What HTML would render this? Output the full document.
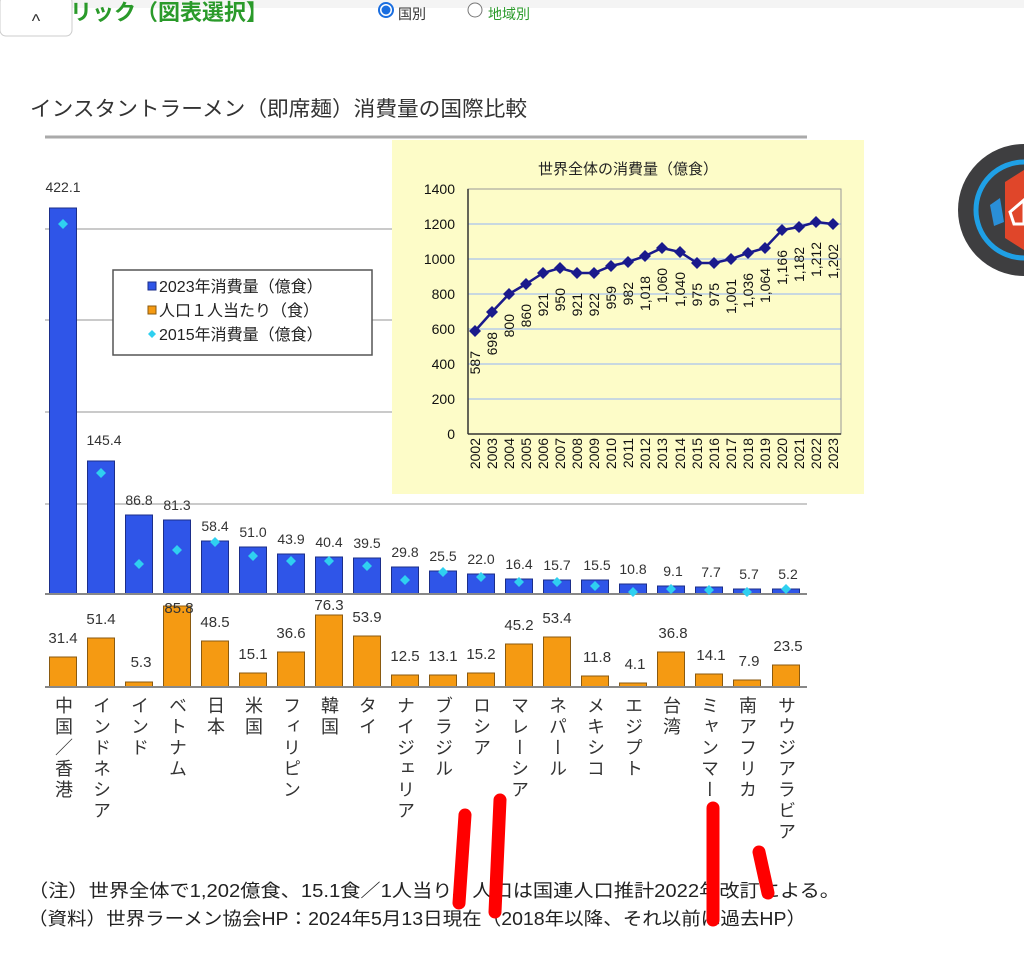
<!DOCTYPE html>
<html><head><meta charset="utf-8">
<style>
html,body{margin:0;padding:0;background:#fff;}
body{width:1024px;height:975px;overflow:hidden;position:relative;font-family:"Liberation Sans","Noto Sans CJK JP",sans-serif;}
svg text{font-family:"Liberation Sans","Noto Sans CJK JP",sans-serif;}
</style></head><body>
<svg width="1024" height="975" viewBox="0 0 1024 975" xmlns="http://www.w3.org/2000/svg">
<rect x="0" y="0" width="1024" height="8" fill="#f4f4f4"/>
<rect x="0" y="-4" width="72" height="40" rx="6" fill="#fff" stroke="#ccc"/>
<text x="36" y="27" font-size="18" text-anchor="middle" fill="#333">^</text>
<text x="70" y="20" font-size="22" fill="#2a9a2a" font-weight="bold">リック（図表選択】</text>
<circle cx="386" cy="10" r="7" fill="#fff" stroke="#1a6ee0" stroke-width="2"/><circle cx="386" cy="10" r="4.5" fill="#1a6ee0"/>
<text x="398" y="19" font-size="14" fill="#333">国別</text>
<circle cx="475" cy="10" r="7" fill="#fff" stroke="#777" stroke-width="1"/>
<text x="488" y="19" font-size="14" fill="#2a9a2a">地域別</text>
<circle cx="1024" cy="210" r="66" fill="#3e3e40"/>
<circle cx="1024" cy="210" r="48" fill="none" stroke="#1fa0e6" stroke-width="5"/>
<polygon points="990,205 1000,198 1004,222 994,226" fill="#2a8fd8"/>
<polygon points="1005,182 1024,170 1024,250 1005,238" fill="#e0462a"/>
<path d="M1010,212 L1024,200 L1024,224 L1014,224 Z" fill="none" stroke="#fff" stroke-width="3"/>
<text x="30" y="116" font-size="21" fill="#333" textLength="497" lengthAdjust="spacingAndGlyphs">インスタントラーメン（即席麺）消費量の国際比較</text>
<line x1="45" y1="137" x2="807" y2="137" stroke="#aaa" stroke-width="3"/>
<g stroke="#aaa" stroke-width="1.2">
<line x1="45" y1="229" x2="807" y2="229"/>
<line x1="45" y1="320" x2="807" y2="320"/>
<line x1="45" y1="412" x2="807" y2="412"/>
<line x1="45" y1="504" x2="807" y2="504"/>
</g>
<g fill="#2f55e8" stroke="#1b2e8a" stroke-width="1">
<rect x="49.5" y="208" width="27" height="386"/>
<rect x="87.5" y="461" width="27" height="133"/>
<rect x="125.5" y="515" width="27" height="79"/>
<rect x="163.5" y="520" width="27" height="74"/>
<rect x="201.5" y="541" width="27" height="53"/>
<rect x="239.5" y="547" width="27" height="47"/>
<rect x="277.5" y="554" width="27" height="40"/>
<rect x="315.5" y="557" width="27" height="37"/>
<rect x="353.5" y="558" width="27" height="36"/>
<rect x="391.5" y="567" width="27" height="27"/>
<rect x="429.5" y="571" width="27" height="23"/>
<rect x="467.5" y="574" width="27" height="20"/>
<rect x="505.5" y="579" width="27" height="15"/>
<rect x="543.5" y="580" width="27" height="14"/>
<rect x="581.5" y="580" width="27" height="14"/>
<rect x="619.5" y="584" width="27" height="10"/>
<rect x="657.5" y="586" width="27" height="8"/>
<rect x="695.5" y="587" width="27" height="7"/>
<rect x="733.5" y="589" width="27" height="5"/>
<rect x="772.5" y="589" width="27" height="5"/>
</g>
<line x1="45" y1="594" x2="807" y2="594" stroke="#888" stroke-width="2"/>
<g fill="#2fd0f0">
<path d="M63,219 l5,5 l-5,5 l-5,-5z"/>
<path d="M101,468 l5,5 l-5,5 l-5,-5z"/>
<path d="M139,559 l5,5 l-5,5 l-5,-5z"/>
<path d="M177,545 l5,5 l-5,5 l-5,-5z"/>
<path d="M215,537 l5,5 l-5,5 l-5,-5z"/>
<path d="M253,551 l5,5 l-5,5 l-5,-5z"/>
<path d="M291,556 l5,5 l-5,5 l-5,-5z"/>
<path d="M329,556 l5,5 l-5,5 l-5,-5z"/>
<path d="M367,561 l5,5 l-5,5 l-5,-5z"/>
<path d="M405,575 l5,5 l-5,5 l-5,-5z"/>
<path d="M443,567 l5,5 l-5,5 l-5,-5z"/>
<path d="M481,572 l5,5 l-5,5 l-5,-5z"/>
<path d="M519,577 l5,5 l-5,5 l-5,-5z"/>
<path d="M557,577 l5,5 l-5,5 l-5,-5z"/>
<path d="M595,581 l5,5 l-5,5 l-5,-5z"/>
<path d="M633,587 l5,5 l-5,5 l-5,-5z"/>
<path d="M671,584 l5,5 l-5,5 l-5,-5z"/>
<path d="M709,585 l5,5 l-5,5 l-5,-5z"/>
<path d="M747,587 l5,5 l-5,5 l-5,-5z"/>
<path d="M786,584 l5,5 l-5,5 l-5,-5z"/>
</g>
<g font-size="14" fill="#333" text-anchor="middle">
<text x="63" y="192">422.1</text>
<text x="104" y="445">145.4</text>
<text x="139" y="505">86.8</text>
<text x="177" y="510">81.3</text>
<text x="215" y="531">58.4</text>
<text x="253" y="537">51.0</text>
<text x="291" y="544">43.9</text>
<text x="329" y="547">40.4</text>
<text x="367" y="548">39.5</text>
<text x="405" y="557">29.8</text>
<text x="443" y="561">25.5</text>
<text x="481" y="564">22.0</text>
<text x="519" y="569">16.4</text>
<text x="557" y="570">15.7</text>
<text x="597" y="570">15.5</text>
<text x="633" y="574">10.8</text>
<text x="673" y="576">9.1</text>
<text x="711" y="577">7.7</text>
<text x="749" y="579">5.7</text>
<text x="788" y="579">5.2</text>
</g>
<g fill="#f59a12" stroke="#8a5a10" stroke-width="1">
<rect x="49.5" y="657" width="27" height="30"/>
<rect x="87.5" y="638" width="27" height="49"/>
<rect x="125.5" y="682" width="27" height="5"/>
<rect x="163.5" y="606" width="27" height="81"/>
<rect x="201.5" y="641" width="27" height="46"/>
<rect x="239.5" y="673" width="27" height="14"/>
<rect x="277.5" y="652" width="27" height="35"/>
<rect x="315.5" y="615" width="27" height="72"/>
<rect x="353.5" y="636" width="27" height="51"/>
<rect x="391.5" y="675" width="27" height="12"/>
<rect x="429.5" y="675" width="27" height="12"/>
<rect x="467.5" y="673" width="27" height="14"/>
<rect x="505.5" y="644" width="27" height="43"/>
<rect x="543.5" y="637" width="27" height="50"/>
<rect x="581.5" y="676" width="27" height="11"/>
<rect x="619.5" y="683" width="27" height="4"/>
<rect x="657.5" y="652" width="27" height="35"/>
<rect x="695.5" y="674" width="27" height="13"/>
<rect x="733.5" y="680" width="27" height="7"/>
<rect x="772.5" y="665" width="27" height="22"/>
</g>
<line x1="45" y1="687" x2="807" y2="687" stroke="#888" stroke-width="2"/>
<g font-size="15" fill="#333" text-anchor="middle">
<text x="63" y="643">31.4</text>
<text x="101" y="624">51.4</text>
<text x="141" y="667">5.3</text>
<text x="179" y="613">85.8</text>
<text x="215" y="627">48.5</text>
<text x="253" y="659">15.1</text>
<text x="291" y="638">36.6</text>
<text x="329" y="610">76.3</text>
<text x="367" y="622">53.9</text>
<text x="405" y="661">12.5</text>
<text x="443" y="661">13.1</text>
<text x="481" y="659">15.2</text>
<text x="519" y="630">45.2</text>
<text x="557" y="623">53.4</text>
<text x="597" y="662">11.8</text>
<text x="635" y="669">4.1</text>
<text x="673" y="638">36.8</text>
<text x="711" y="660">14.1</text>
<text x="749" y="666">7.9</text>
<text x="788" y="651">23.5</text>
</g>
<g font-size="18" fill="#333" style="writing-mode:vertical-rl;text-orientation:upright" letter-spacing="3">
<text x="63" y="696">中国／香港</text>
<text x="101" y="696">インドネシア</text>
<text x="139" y="696">インド</text>
<text x="177" y="696">ベトナム</text>
<text x="215" y="696">日本</text>
<text x="253" y="696">米国</text>
<text x="291" y="696">フィリピン</text>
<text x="329" y="696">韓国</text>
<text x="367" y="696">タイ</text>
<text x="405" y="696">ナイジェリア</text>
<text x="443" y="696">ブラジル</text>
<text x="481" y="696">ロシア</text>
<text x="519" y="696">マレーシア</text>
<text x="557" y="696">ネパール</text>
<text x="595" y="696">メキシコ</text>
<text x="633" y="696">エジプト</text>
<text x="671" y="696">台湾</text>
<text x="709" y="696">ミャンマー</text>
<text x="747" y="696">南アフリカ</text>
<text x="786" y="696">サウジアラビア</text>
</g>
<rect x="113" y="270" width="259" height="85" fill="#fff" stroke="#555" stroke-width="1.5"/>
<rect x="148" y="282" width="8" height="8" fill="#2f55e8" stroke="#1b2e8a"/>
<rect x="148" y="306" width="8" height="8" fill="#f59a12" stroke="#8a5a10"/>
<path d="M152,330 l4,4 l-4,4 l-4,-4z" fill="#2fd0f0"/>
<g font-size="16" fill="#222">
<text x="159" y="292">2023年消費量（億食）</text>
<text x="159" y="316">人口１人当たり（食）</text>
<text x="159" y="340">2015年消費量（億食）</text>
</g>
<rect x="392" y="140" width="472" height="354" fill="#fdfcc8"/>
<text x="628" y="174" font-size="15" fill="#222" text-anchor="middle">世界全体の消費量（億食）</text>
<g stroke="#c8d8e0" stroke-width="2">
<line x1="468" y1="399" x2="841" y2="399"/>
<line x1="468" y1="364" x2="841" y2="364"/>
<line x1="468" y1="329" x2="841" y2="329"/>
<line x1="468" y1="294" x2="841" y2="294"/>
<line x1="468" y1="259" x2="841" y2="259"/>
<line x1="468" y1="224" x2="841" y2="224"/>
</g>
<rect x="468" y="189" width="373" height="245" fill="none" stroke="#999"/>
<line x1="468" y1="189" x2="468" y2="434" stroke="#333" stroke-width="1.5"/>
<line x1="468" y1="434" x2="841" y2="434" stroke="#333" stroke-width="1.5"/>
<g font-size="14" fill="#111" text-anchor="end">
<text x="455" y="439">0</text><text x="455" y="404">200</text><text x="455" y="369">400</text><text x="455" y="334">600</text><text x="455" y="299">800</text><text x="455" y="264">1000</text><text x="455" y="229">1200</text><text x="455" y="194">1400</text>
</g>
<polyline fill="none" stroke="#1a1a8c" stroke-width="2.5" points="475,331 492,312 509,294 526,284 543,273 560,268 577,273 594,273 611,266 628,262 645,256 662,248 680,252 697,263 714,263 731,259 748,253 765,248 782,230 799,227 816,222 833,224"/>
<g fill="#1a1a8c">
<path d="M475,325 l6,6 l-6,6 l-6,-6z"/><path d="M492,306 l6,6 l-6,6 l-6,-6z"/><path d="M509,288 l6,6 l-6,6 l-6,-6z"/><path d="M526,278 l6,6 l-6,6 l-6,-6z"/><path d="M543,267 l6,6 l-6,6 l-6,-6z"/><path d="M560,262 l6,6 l-6,6 l-6,-6z"/><path d="M577,267 l6,6 l-6,6 l-6,-6z"/><path d="M594,267 l6,6 l-6,6 l-6,-6z"/><path d="M611,260 l6,6 l-6,6 l-6,-6z"/><path d="M628,256 l6,6 l-6,6 l-6,-6z"/><path d="M645,250 l6,6 l-6,6 l-6,-6z"/><path d="M662,242 l6,6 l-6,6 l-6,-6z"/><path d="M680,246 l6,6 l-6,6 l-6,-6z"/><path d="M697,257 l6,6 l-6,6 l-6,-6z"/><path d="M714,257 l6,6 l-6,6 l-6,-6z"/><path d="M731,253 l6,6 l-6,6 l-6,-6z"/><path d="M748,247 l6,6 l-6,6 l-6,-6z"/><path d="M765,242 l6,6 l-6,6 l-6,-6z"/><path d="M782,224 l6,6 l-6,6 l-6,-6z"/><path d="M799,221 l6,6 l-6,6 l-6,-6z"/><path d="M816,216 l6,6 l-6,6 l-6,-6z"/><path d="M833,218 l6,6 l-6,6 l-6,-6z"/>
</g>
<g font-size="14" fill="#111" text-anchor="end">
<text transform="translate(480,351) rotate(-90)">587</text>
<text transform="translate(497,332) rotate(-90)">698</text>
<text transform="translate(514,314) rotate(-90)">800</text>
<text transform="translate(531,304) rotate(-90)">860</text>
<text transform="translate(548,293) rotate(-90)">921</text>
<text transform="translate(565,288) rotate(-90)">950</text>
<text transform="translate(582,293) rotate(-90)">921</text>
<text transform="translate(599,293) rotate(-90)">922</text>
<text transform="translate(616,286) rotate(-90)">959</text>
<text transform="translate(633,282) rotate(-90)">982</text>
<text transform="translate(650,276) rotate(-90)">1,018</text>
<text transform="translate(667,268) rotate(-90)">1,060</text>
<text transform="translate(685,272) rotate(-90)">1,040</text>
<text transform="translate(702,283) rotate(-90)">975</text>
<text transform="translate(719,283) rotate(-90)">975</text>
<text transform="translate(736,279) rotate(-90)">1,001</text>
<text transform="translate(753,273) rotate(-90)">1,036</text>
<text transform="translate(770,268) rotate(-90)">1,064</text>
<text transform="translate(787,250) rotate(-90)">1,166</text>
<text transform="translate(804,247) rotate(-90)">1,182</text>
<text transform="translate(821,242) rotate(-90)">1,212</text>
<text transform="translate(838,244) rotate(-90)">1,202</text>
</g>
<g font-size="14" fill="#111" text-anchor="end">
<text transform="translate(480,438) rotate(-90)">2002</text>
<text transform="translate(497,438) rotate(-90)">2003</text>
<text transform="translate(514,438) rotate(-90)">2004</text>
<text transform="translate(531,438) rotate(-90)">2005</text>
<text transform="translate(548,438) rotate(-90)">2006</text>
<text transform="translate(565,438) rotate(-90)">2007</text>
<text transform="translate(582,438) rotate(-90)">2008</text>
<text transform="translate(599,438) rotate(-90)">2009</text>
<text transform="translate(616,438) rotate(-90)">2010</text>
<text transform="translate(633,438) rotate(-90)">2011</text>
<text transform="translate(650,438) rotate(-90)">2012</text>
<text transform="translate(667,438) rotate(-90)">2013</text>
<text transform="translate(685,438) rotate(-90)">2014</text>
<text transform="translate(702,438) rotate(-90)">2015</text>
<text transform="translate(719,438) rotate(-90)">2016</text>
<text transform="translate(736,438) rotate(-90)">2017</text>
<text transform="translate(753,438) rotate(-90)">2018</text>
<text transform="translate(770,438) rotate(-90)">2019</text>
<text transform="translate(787,438) rotate(-90)">2020</text>
<text transform="translate(804,438) rotate(-90)">2021</text>
<text transform="translate(821,438) rotate(-90)">2022</text>
<text transform="translate(838,438) rotate(-90)">2023</text>
</g>
<g font-size="18" fill="#222">
<text x="28" y="897" textLength="812" lengthAdjust="spacingAndGlyphs">（注）世界全体で1,202億食、15.1食／1人当り。人口は国連人口推計2022年改訂による。</text>
<text x="28" y="925" textLength="778" lengthAdjust="spacingAndGlyphs">（資料）世界ラーメン協会HP：2024年5月13日現在（2018年以降、それ以前は過去HP）</text>
</g>
<g stroke="#ff0000" stroke-width="13" stroke-linecap="round" fill="none">
<line x1="465" y1="815" x2="459" y2="903"/>
<line x1="500" y1="800" x2="495" y2="912"/>
<line x1="713" y1="808" x2="713" y2="920"/>
<line x1="759" y1="852" x2="768" y2="893"/>
</g>
</svg>
</body></html>
